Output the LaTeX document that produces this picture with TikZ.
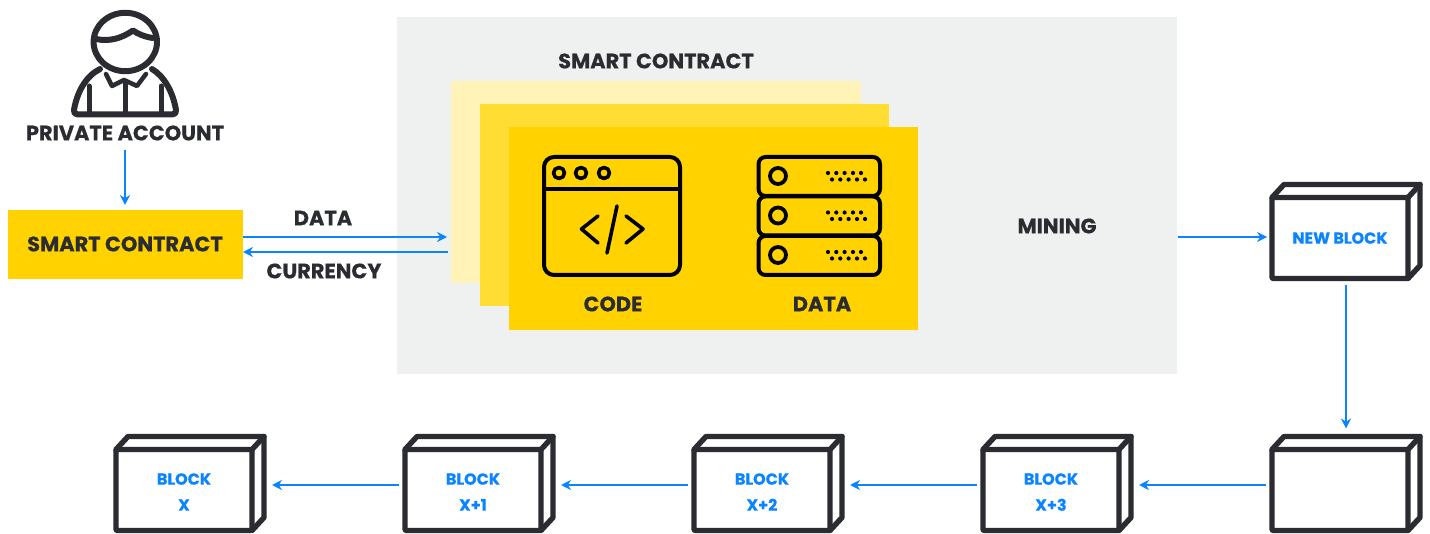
\documentclass[tikz,border=0pt]{standalone}
\usepackage{fontspec}
\setmainfont{Poppins}[BoldFeatures={FakeBold=0.5}]
\usetikzlibrary{arrows.meta}
\definecolor{ink}{HTML}{2A2C32}
\definecolor{flow}{HTML}{0A84FF}
\definecolor{panel}{HTML}{EFF1F0}
\definecolor{yellowa}{HTML}{FFF3B8}
\definecolor{yellowb}{HTML}{FFDD33}
\definecolor{yellowc}{HTML}{FFD200}
\tikzset{
  lbl/.style={font=\bfseries\fontsize{20.9}{24}\selectfont, text=ink, inner sep=0pt, outer sep=0pt},
  blocktext/.style={font=\bfseries\fontsize{16}{26}\selectfont, text=flow, align=center, text depth=0pt},
  blockfront/.style={draw=ink, line width=5.4pt, line join=round, rounded corners=1pt, minimum width=136pt, minimum height=81pt, inner sep=0pt, outer sep=0pt, fill=white},
  blockedge/.style={draw=ink, line width=5.4pt, line join=round, line cap=round},
  flowline/.style={draw=flow, line width=2.2pt, -{Stealth[length=10pt,width=10pt]}},
  person/.style={draw=ink, line width=6pt, line join=round, line cap=round},
  icon/.style={draw=black, line width=4pt, line join=round, line cap=round},
  dot/.style={fill=black, draw=none}
}
\newcommand{\blockbox}[5]{%
  \draw[blockedge] (#2,#3) ++(-68,-40.5) -- ++(12,-13) -- ++(136,0) -- ++(0,81) -- ++(-12,13);
  \node[blockfront] (#1) at (#2,#3) {};
  \draw[blockedge] (#1.north east) -- ++(12,-13);
  \node[blocktext] (#1text) at ([yshift=-#5]#1.center) {#4};
}
\newcommand{\serverrow}[2]{%
  \draw[icon, rounded corners=7pt] (758.5,#1) rectangle (880,#1+39);
  \draw[icon, line width=3.8pt] (778,#1+19) circle (8);
  \foreach \dx in {828,836.3,844.6,853,861} \fill[dot] (\dx,#1+16) circle (2.1);
  \foreach \dx in {832,840.3,848.6,857,865} \fill[dot] (\dx,#1+22.5) circle (2.1);
}
\begin{document}
\begin{tikzpicture}[x=1pt,y=-1pt]
\useasboundingbox (0,0) rectangle (1430,534);
\fill[white] (0,0) rectangle (1430,534);
% panel and cards
\fill[panel] (397,17) rectangle (1177,374);
\fill[yellowa] (451,81) rectangle (861,283);
\fill[yellowb] (480,104) rectangle (889,306);
\fill[yellowc] (509,127) rectangle (918,330);
% person
\draw[person] (125.3,42) ellipse (31.7 and 29.2);
\draw[person] (96,39) .. controls (110,42) and (122,38) .. (133,30.5) .. controls (138,34) and (145,37) .. (153,38);
\draw[person] (100,69) .. controls (86,76) and (77,92) .. (74,110) .. controls (73.5,113) and (75,114.5) .. (78,114.5) -- (172,114.5) .. controls (175,114.5) and (176.5,113) .. (176,110) .. controls (173,92) and (164,76) .. (152,69);
\draw[person, line width=4.5pt] (106,74) -- (112,86) -- (124,80) -- (137,86) -- (146,74);
\draw[person, line width=5pt] (125,83) -- (125,114) (89,86) -- (89,114) (161,86) -- (161,114);
\node[lbl] (acct) at (125,133) {PRIVATE ACCOUNT};
% smart contract box
\node[fill=yellowc, minimum width=235pt, minimum height=69pt, inner sep=0pt, outer sep=0pt] (sc) at (125.5,244.5) {};
\node[lbl] (sclabel) at (125,244) {SMART CONTRACT};
% card labels
\node[lbl] (title) at (656,61) {SMART CONTRACT};
\node[lbl] (code) at (613,304) {CODE};
\node[lbl] (datalbl) at (822,304) {DATA};
\node[lbl] (mining) at (1057,226) {MINING};
\node[lbl] (datatop) at (323,218) {DATA};
\node[lbl] (curr) at (324,271) {CURRENCY};
% code icon
\draw[icon, rounded corners=10pt] (544,157) rectangle (680,275);
\draw[icon] (544,189) -- (680,189);
\foreach \cx in {559,581,604} \draw[icon, line width=3.6pt] (\cx,173) circle (5.5);
\draw[icon, line width=3.6pt] (598,216) -- (581.5,229) -- (598,243);
\draw[icon, line width=3.6pt] (626,216) -- (643,229) -- (626,243);
\draw[icon, line width=3.6pt] (617,206) -- (607,253);
% data icon
\serverrow{157}{1}
\serverrow{196.5}{2}
\serverrow{236}{3}
% blocks
\blockbox{nb}{1340}{238}{NEW BLOCK}{0pt}
\blockbox{b4}{1340}{490}{}{0pt}
\blockbox{b3}{1051}{490}{BLOCK\\[0pt]X+3}{2pt}
\blockbox{b2}{762}{490}{BLOCK\\[0pt]X+2}{2pt}
\blockbox{b1}{473}{490}{BLOCK\\[0pt]X+1}{2pt}
\blockbox{b0}{184}{490}{BLOCK\\[0pt]X}{2pt}
% connectors
\coordinate (cardin) at (447,237);
\coordinate (cardout) at (448,252);
\coordinate (mineout) at (1178,237);
\draw[flowline] (acct.south) ++(0,9) -- ([yshift=5pt]sc.north -| acct.south);
\draw[flowline] (sc.east |- cardin) -- (cardin);
\draw[flowline] (cardout) -- (sc.east |- cardout);
\draw[flowline] (mineout) -- ([xshift=-5pt]nb.west |- mineout);
\draw[flowline] ([xshift=6pt,yshift=-7pt]nb.south) -- ([xshift=6pt,yshift=21pt]b4.north);
\draw[flowline] ([xshift=-6pt,yshift=5pt]b4.west) -- ([xshift=20pt,yshift=5pt]b3.east);
\draw[flowline] ([xshift=-6pt,yshift=5pt]b3.west) -- ([xshift=20pt,yshift=5pt]b2.east);
\draw[flowline] ([xshift=-6pt,yshift=5pt]b2.west) -- ([xshift=20pt,yshift=5pt]b1.east);
\draw[flowline] ([xshift=-6pt,yshift=5pt]b1.west) -- ([xshift=20pt,yshift=5pt]b0.east);
\end{tikzpicture}
\end{document}
